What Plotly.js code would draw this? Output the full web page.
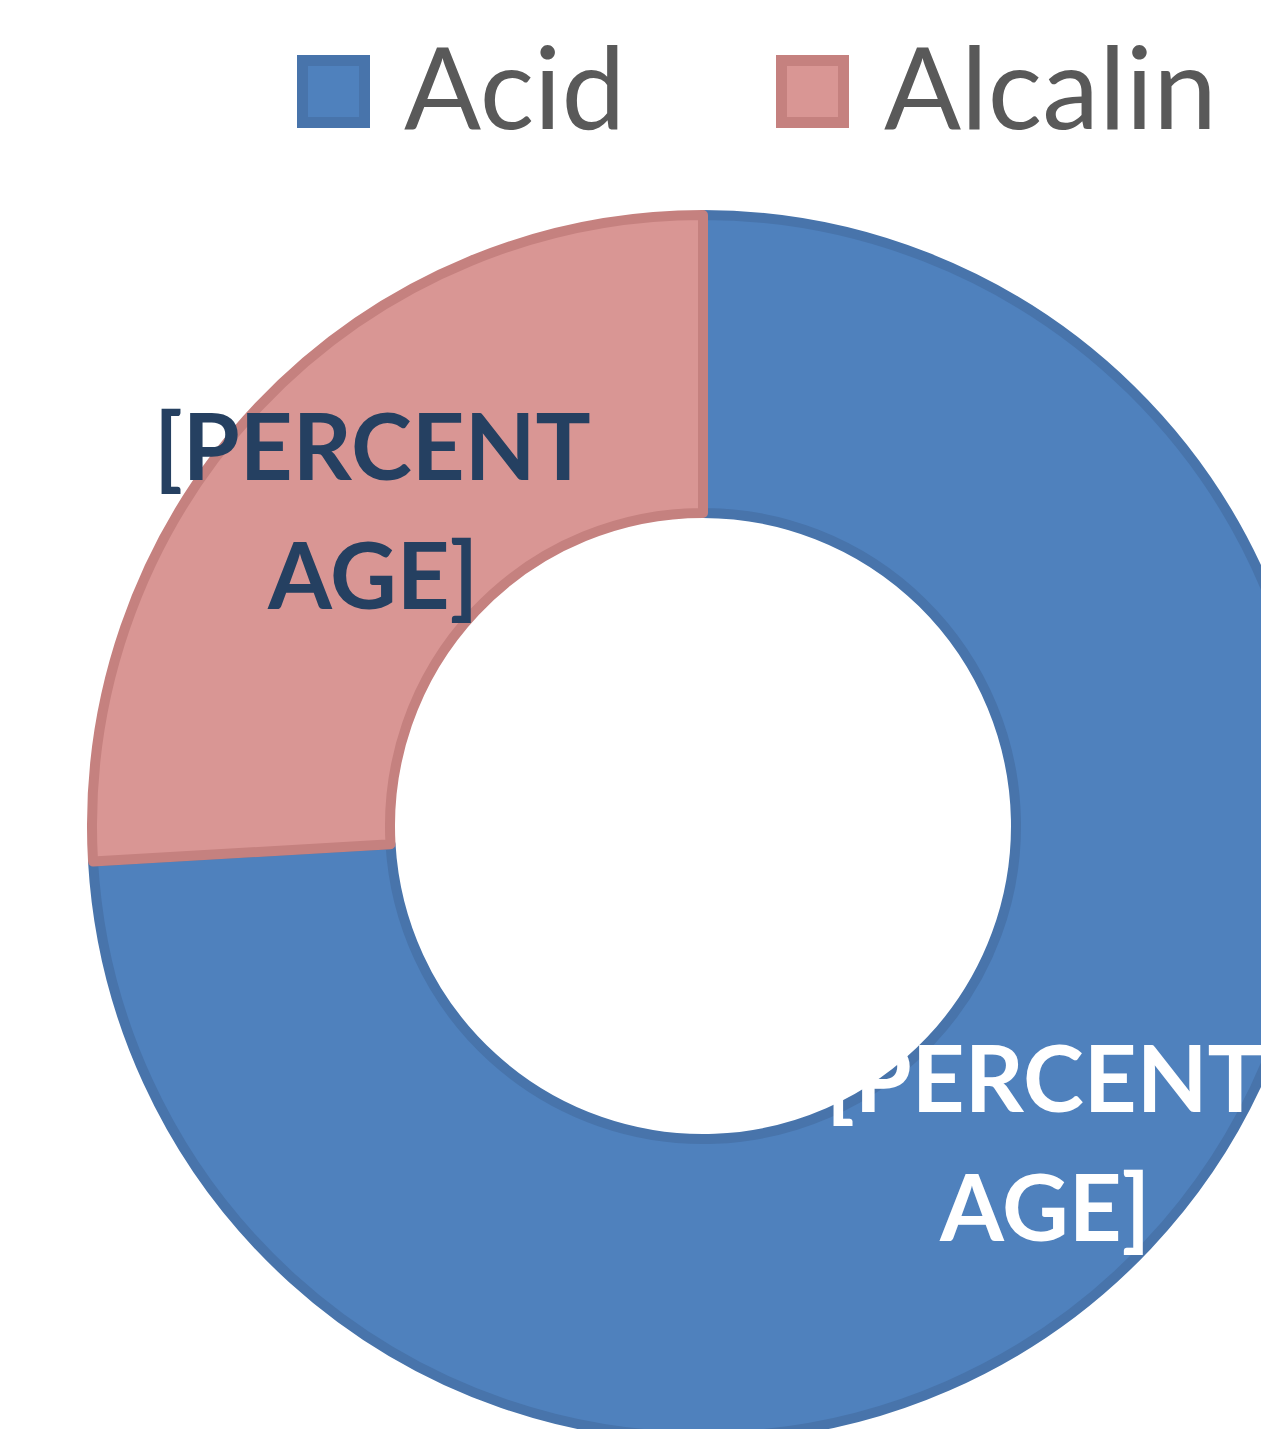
<!DOCTYPE html>
<html>
<head>
<meta charset="utf-8">
<script src="https://cdn.plot.ly/plotly-3.0.1.min.js"></script>
<style>
  html, body { margin: 0; padding: 0; overflow: hidden; background: #ffffff; }
  #chart { width: 1400px; height: 1500px; }
</style>
</head>
<body>
<div id="chart"></div>
<script>
// ---- data ----
const categories = ["Acid", "Alcalin"];
const values = [20, 7];
const labelText = ["[PERCENT<br>AGE]", "[PERCENT<br>AGE]"];

// ---- styles ----
const fillColors = ["#4F81BD", "#D99694"];
const lineColors = ["#4874AB", "#C5817F"];
const labelColors = ["#FFFFFF", "#254061"];

const W = 1400, H = 1500;
const px = x => x / W;
const py = y => 1 - y / H;

// donut geometry (pixels)
const cx = 703, cy = 826, R = 611;
const hole = 313 / R;

const trace = {
  type: "pie",
  labels: categories,
  values: values,
  sort: false,
  direction: "clockwise",
  rotation: 0,
  hole: hole,
  textinfo: "none",
  hoverinfo: "none",
  showlegend: false,
  marker: { colors: fillColors, line: { color: lineColors, width: 10 } },
  domain: { x: [px(cx - R), px(cx + R)], y: [py(cy + R), py(cy - R)] }
};

// data labels placed over the slices (one annotation per text line)
const labelPos = [[1044, 1076], [372, 444]];   // centre of first line
const linePitch = 129;
const annotations = [];
categories.forEach((c, i) => {
  labelText[i].split("<br>").forEach((ln, k) => {
    annotations.push({
      xref: "paper", yref: "paper",
      x: px(labelPos[i][0]), y: py(labelPos[i][1] + k * linePitch),
      xanchor: "center", yanchor: "middle",
      text: ln, showarrow: false, align: "center",
      font: { family: "Lato", size: 92, color: labelColors[i], weight: "bold" }
    });
  });
});

// legend built from categories
const legendSq = [[297, 55], [776, 55]];
const legendTx = [[402, 85], [882, 85]];
const shapes = [];
const sq = 73, lw = 11;
categories.forEach((c, i) => {
  const [x0, y0] = legendSq[i];
  shapes.push({
    type: "rect", xref: "paper", yref: "paper",
    x0: px(x0 + lw / 2), x1: px(x0 + sq - lw / 2),
    y0: py(y0 + lw / 2), y1: py(y0 + sq - lw / 2),
    fillcolor: fillColors[i], line: { color: lineColors[i], width: lw }
  });
  annotations.push({
    xref: "paper", yref: "paper",
    x: px(legendTx[i][0]), y: py(legendTx[i][1]),
    xanchor: "left", yanchor: "middle",
    text: c, showarrow: false,
    font: { family: "Lato", size: 114, color: "#595959" }
  });
});

const layout = {
  width: W, height: H,
  margin: { l: 0, r: 0, t: 0, b: 0 },
  paper_bgcolor: "#ffffff",
  plot_bgcolor: "#ffffff",
  showlegend: false,
  annotations: annotations,
  shapes: shapes
};

Plotly.newPlot("chart", [trace], layout, { displayModeBar: false, staticPlot: true });
</script>
</body>
</html>
